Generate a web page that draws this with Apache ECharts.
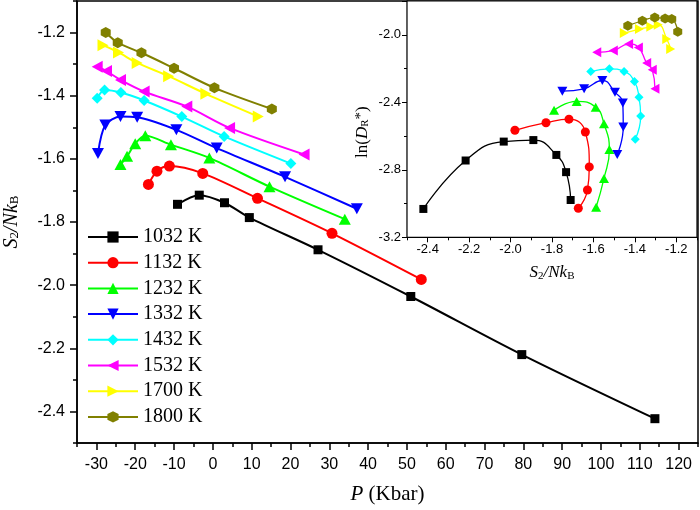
<!DOCTYPE html>
<html>
<head>
<meta charset="utf-8">
<script src="https://cdn.jsdelivr.net/npm/echarts@6/dist/echarts.min.js"></script>
<style>html,body{margin:0;padding:0;background:#fff}#c{width:700px;height:510px}</style>
</head>
<body>
<div id="c"></div>
<script>
// ---- data (main chart: P in Kbar vs S2/NkB) ----
const names = ['1032 K','1132 K','1232 K','1332 K','1432 K','1532 K','1700 K','1800 K'];
const P_1032 = [-9.1,-3.5,3.0,9.4,27.1,51.0,79.6,113.9];
const S_1032 = [-1.744,-1.715,-1.739,-1.786,-1.888,-2.036,-2.220,-2.423];
const P_1132 = [-16.6,-14.4,-11.2,-2.6,11.5,30.7,53.7];
const S_1132 = [-1.681,-1.639,-1.623,-1.646,-1.725,-1.836,-1.982];
const P_1232 = [-23.8,-22.1,-20.0,-17.4,-10.8,-0.9,14.6,34.0];
const S_1232 = [-1.618,-1.592,-1.552,-1.527,-1.555,-1.597,-1.688,-1.791];
const P_1332 = [-29.6,-27.7,-23.8,-19.5,-9.4,1.0,18.6,37.1];
const S_1332 = [-1.583,-1.493,-1.466,-1.468,-1.508,-1.566,-1.657,-1.758];
const P_1432 = [-29.8,-27.9,-23.7,-17.7,-8.0,2.9,20.1];
const S_1432 = [-1.408,-1.382,-1.390,-1.415,-1.466,-1.529,-1.615];
const P_1532 = [-29.8,-27.4,-23.8,-17.7,-6.7,4.3,23.5];
const S_1532 = [-1.308,-1.322,-1.350,-1.387,-1.434,-1.502,-1.586];
const P_1700 = [-28.3,-24.3,-19.5,-11.4,-1.8,11.7];
const S_1700 = [-1.240,-1.263,-1.296,-1.338,-1.394,-1.466];
const P_1800 = [-27.6,-24.5,-18.4,-10.0,0.4,15.2];
const S_1800 = [-1.200,-1.232,-1.264,-1.313,-1.375,-1.442];

// ---- inset data: S2/NkB vs ln(D_R*) ----
const iS_1032 = [-2.421,-2.217,-2.033,-1.890,-1.779,-1.732,-1.710];
const iD_1032 = [-3.032,-2.745,-2.633,-2.624,-2.712,-2.814,-2.979];
const iS_1132 = [-1.979,-1.829,-1.718,-1.639,-1.620,-1.629,-1.673];
const iD_1132 = [-2.566,-2.521,-2.500,-2.576,-2.783,-2.920,-3.028];
const iS_1232 = [-1.790,-1.681,-1.589,-1.549,-1.523,-1.549,-1.587];
const iD_1232 = [-2.448,-2.395,-2.429,-2.527,-2.680,-2.851,-3.022];
const iS_1332 = [-1.750,-1.645,-1.557,-1.496,-1.458,-1.456,-1.485];
const iD_1332 = [-2.334,-2.320,-2.271,-2.340,-2.405,-2.547,-2.710];
const iS_1432 = [-1.613,-1.523,-1.452,-1.402,-1.380,-1.372,-1.398];
const iD_1432 = [-2.218,-2.202,-2.217,-2.277,-2.370,-2.482,-2.619];
const iS_1532 = [-1.584,-1.504,-1.430,-1.383,-1.343,-1.316,-1.303];
const iD_1532 = [-2.104,-2.094,-2.055,-2.075,-2.167,-2.208,-2.320];
const iS_1700 = [-1.451,-1.378,-1.323,-1.287,-1.246,-1.227];
const iD_1700 = [-1.990,-1.966,-1.953,-1.941,-2.025,-2.084];
const iS_1800 = [-1.434,-1.364,-1.304,-1.254,-1.222,-1.193];
const iD_1800 = [-1.947,-1.917,-1.898,-1.904,-1.907,-1.982];

// ---- tick labels ----
const P_TICKS = [-30,-20,-10,0,10,20,30,40,50,60,70,80,90,100,110,120];
const S_TICKS = [-2.4,-2.2,-2.0,-1.8,-1.6,-1.4,-1.2];
const D_TICKS = [-3.2,-2.8,-2.4,-2.0];

// ---- styles ----
const colors = ['#000000','#ff0000','#00ff00','#0000ff','#00ffff','#ff00ff','#ffff00','#808000'];
const symbols = [
  'rect','circle','triangle',
  'path://M0,0L10,0L5,8.66Z',
  'path://M5,0L10,5L5,10L0,5Z',
  'path://M0,5L8.66,0L8.66,10Z',
  'path://M0,0L8.66,5L0,10Z',
  'path://M5,0L9.33,2.5L9.33,7.5L5,10L0.67,7.5L0.67,2.5Z'
];
const mainSizes = [[9,9],11,[12,11],[12,11],[11,11],[11,12],[11,12],[10,11]];
const insetSizes = [[8,8],9,[10,9],[10,9],[9,9],[9,10],[9,10],[9,10]];

const mainP = [P_1032,P_1132,P_1232,P_1332,P_1432,P_1532,P_1700,P_1800];
const mainS = [S_1032,S_1132,S_1232,S_1332,S_1432,S_1532,S_1700,S_1800];
const insS = [iS_1032,iS_1132,iS_1232,iS_1332,iS_1432,iS_1532,iS_1700,iS_1800];
const insD = [iD_1032,iD_1132,iD_1232,iD_1332,iD_1432,iD_1532,iD_1700,iD_1800];

const zip = (a,b) => a.map((v,i)=>[v,b[i]]);
const series = [];
names.forEach((n,k)=>{
  series.push({
    name:n, type:'line', xAxisIndex:0, yAxisIndex:0,
    data: zip(mainP[k], mainS[k]),
    smooth:0.3, symbol:symbols[k], symbolSize:mainSizes[k],
    lineStyle:{color:colors[k], width:2}, itemStyle:{color:colors[k]},
    z: 2+k
  });
});
names.forEach((n,k)=>{
  series.push({
    name:n, type:'line', xAxisIndex:2, yAxisIndex:2,
    data: zip(insS[k], insD[k]),
    smooth:0.5, symbol:symbols[k], symbolSize:insetSizes[k],
    lineStyle:{color:colors[k], width:1.3}, itemStyle:{color:colors[k]},
    z: 20+k
  });
});

const SANS = 'Liberation Sans';
const SERIF = 'Liberation Serif';
const fmt1 = v => Number(v).toFixed(1);
const subRich = {
  i:{fontFamily:SERIF, fontStyle:'italic', fontSize:20, lineHeight:20, padding:[0,0,5,0], verticalAlign:'top', color:'#000'},
  r:{fontFamily:SERIF, fontSize:20, lineHeight:20, padding:[0,0,5,0], verticalAlign:'top', color:'#000'},
  sub:{fontFamily:SERIF, fontSize:13, lineHeight:13, verticalAlign:'bottom', color:'#000'}
};
const subRichS = {
  i:{fontFamily:SERIF, fontStyle:'italic', fontSize:17, lineHeight:17, padding:[0,0,4,0], verticalAlign:'top', color:'#000'},
  r:{fontFamily:SERIF, fontSize:17, lineHeight:17, padding:[0,0,4,0], verticalAlign:'top', color:'#000'},
  sub:{fontFamily:SERIF, fontSize:11, lineHeight:11, verticalAlign:'bottom', color:'#000'},
  sup:{fontFamily:SERIF, fontSize:15, lineHeight:15, verticalAlign:'top', color:'#000'}
};
const line0 = (w) => ({show:true, onZero:false, lineStyle:{color:'#000', width:w}});

const option = {
  animation:false,
  backgroundColor:'#fff',
  grid:[
    {left:77, top:1, right:2, bottom:67, show:true, borderColor:'#000', borderWidth:1.5,
     backgroundColor:'transparent', containLabel:false, outerBoundsMode:'none'},
    {left:407, top:1, right:3, bottom:272.7, show:true, borderColor:'#000', borderWidth:1.2,
     backgroundColor:'#fff', z:10, containLabel:false, outerBoundsMode:'none'}
  ],
  legend:{
    data:names, orient:'vertical', left:87, top:227, itemWidth:50, itemHeight:14, itemGap:5.7,
    padding:0, selectedMode:false,
    textStyle:{fontFamily:SERIF, fontSize:20, color:'#000'}
  },
  xAxis:[
    {gridIndex:0, type:'value', min:-35, max:125, interval:5,
     axisLine:line0(1.5),
     axisTick:{show:true, length:4, lineStyle:{color:'#000', width:1.5}},
     axisLabel:{show:false}, splitLine:{show:false}},
    {gridIndex:0, type:'value', position:'bottom', min:-35, max:125, interval:10,
     axisLine:{show:false, onZero:false},
     axisTick:{show:true, length:7, customValues:P_TICKS, lineStyle:{color:'#000', width:1.5}},
     axisLabel:{customValues:P_TICKS, fontFamily:SANS, fontSize:16, color:'#000', margin:14},
     splitLine:{show:false},
     name:'{i|P}{r| (Kbar)}', nameLocation:'middle', nameGap:41,
     nameTextStyle:{rich:{
       i:{fontFamily:SERIF, fontStyle:'italic', fontSize:21, color:'#000'},
       r:{fontFamily:SERIF, fontSize:21, color:'#000'}}}},
    {gridIndex:1, type:'value', min:-2.5, max:-1.1, interval:0.1,
     axisLine:line0(1.2),
     axisTick:{show:true, length:3, lineStyle:{color:'#000', width:1}},
     axisLabel:{show:false}, splitLine:{show:false}},
    {gridIndex:1, type:'value', position:'bottom', min:-2.5, max:-1.1, interval:0.2,
     axisLine:{show:false, onZero:false},
     axisTick:{show:true, length:5, customValues:S_TICKS, lineStyle:{color:'#000', width:1}},
     axisLabel:{customValues:S_TICKS, formatter:fmt1, fontFamily:SANS, fontSize:13, color:'#000', margin:6},
     splitLine:{show:false},
     name:'{i|S}{sub|2}{i|/Nk}{sub|B}', nameLocation:'middle', nameGap:27,
     nameTextStyle:{rich:subRichS}}
  ],
  yAxis:[
    {gridIndex:0, type:'value', min:-2.5, max:-1.1, interval:0.1,
     axisLine:line0(1.5),
     axisTick:{show:true, length:4, lineStyle:{color:'#000', width:1.5}},
     axisLabel:{show:false}, splitLine:{show:false}},
    {gridIndex:0, type:'value', position:'left', min:-2.5, max:-1.1, interval:0.2,
     axisLine:{show:false, onZero:false},
     axisTick:{show:true, length:7, customValues:S_TICKS, lineStyle:{color:'#000', width:1.5}},
     axisLabel:{customValues:S_TICKS, formatter:fmt1, fontFamily:SANS, fontSize:16, color:'#000', margin:12},
     splitLine:{show:false},
     name:'{i|S}{sub|2}{i|/Nk}{sub|B}', nameLocation:'middle', nameGap:46,
     nameTextStyle:{rich:subRich}},
    {gridIndex:1, type:'value', min:-3.2, max:-1.8, interval:0.4,
     axisLine:line0(1.2),
     axisTick:{show:true, length:5, lineStyle:{color:'#000', width:1}},
     minorTick:{show:true, splitNumber:2, length:3, lineStyle:{color:'#000', width:1}},
     axisLabel:{customValues:D_TICKS, formatter:fmt1, fontFamily:SANS, fontSize:13, color:'#000', margin:6},
     splitLine:{show:false},
     name:'ln({i|D}{sub|R}{sup|*})', nameLocation:'middle', nameGap:33,
     nameTextStyle:{fontFamily:SERIF, fontSize:17, color:'#000', padding:[0,26,0,0], rich:subRichS}}
  ],
  series: series
};
const chart = echarts.init(document.getElementById('c'), null, {renderer:'canvas'});
chart.setOption(option);
</script>
</body>
</html>
